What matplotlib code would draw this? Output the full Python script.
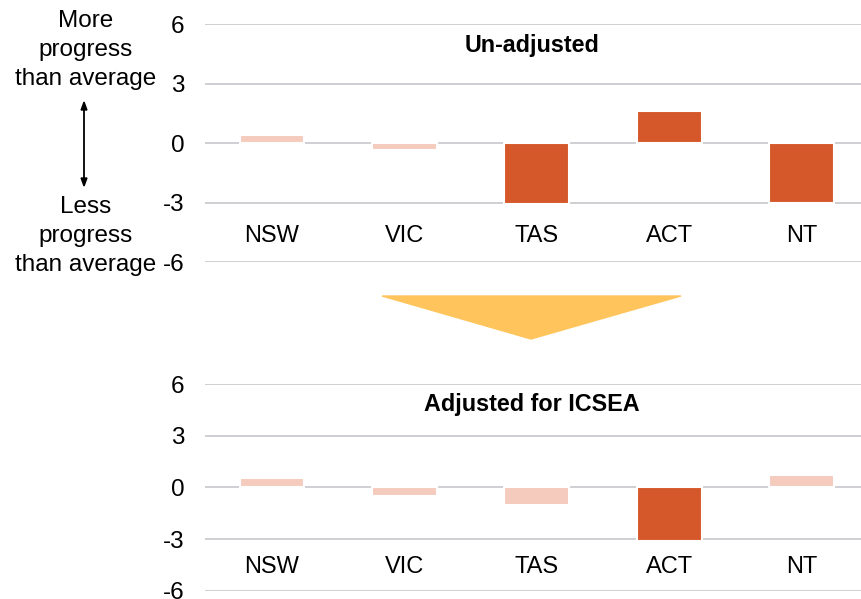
import numpy as np
import matplotlib.pyplot as plt
from matplotlib.patches import Polygon

plt.rcParams['font.family'] = ['Liberation Sans', 'DejaVu Sans']

# --- Données ---
states = ["NSW", "VIC", "TAS", "ACT", "NT"]
unadjusted = [0.42, -0.34, -3.08, 1.63, -3.03]
adjusted = [0.52, -0.48, -1.02, -3.1, 0.74]
sig_unadj = [False, False, True, True, True]
sig_adj = [False, False, False, True, False]
yticks = [-6, -3, 0, 3, 6]

DARK = "#D5582A"
LIGHT = "#F5CBBE"
GRID = "#CFCFD3"
FS = 17.5

fig = plt.figure(figsize=(8.61, 5.99), dpi=100)

def panel(rect, values, sig, title, title_y):
    ax = fig.add_axes(rect)
    x = np.arange(len(states))
    cols = [DARK if s else LIGHT for s in sig]
    ax.bar(x, values, width=0.49, color=cols, edgecolor="white", linewidth=1.5, zorder=3)
    ax.set_xlim(-0.506, 4.45)
    ax.set_ylim(-6, 6)
    ax.set_yticks(yticks)
    ax.set_yticklabels([str(t) for t in yticks], fontsize=FS)
    ax.grid(axis="y", color=GRID, linewidth=1.4, zorder=0)
    ax.tick_params(axis="y", length=0, pad=15)
    ax.set_xticks([])
    for s in ax.spines.values():
        s.set_visible(False)
    for i, name in enumerate(states):
        ax.text(i, -4.65, name, ha="center", va="center", fontsize=17)
    fig.text(0.618, title_y, title, ha="center", va="center", fontsize=16.8, fontweight="bold")
    return ax

panel([0.2381, 0.5621, 0.7619, 0.3973], unadjusted, sig_unadj, "Un-adjusted", 0.9235)
panel([0.2381, 0.01386, 0.7619, 0.345], adjusted, sig_adj, "Adjusted for ICSEA", 0.3247)

# --- Annotations à gauche ---
fig.text(0.0999, 0.9165, "More\nprogress\nthan average", ha="center", va="center",
         fontsize=FS, linespacing=1.4)
fig.text(0.0999, 0.606, "Less\nprogress\nthan average", ha="center", va="center",
         fontsize=FS, linespacing=1.4)
fig.add_artist(plt.Line2D([0.0976, 0.0976], [1 - 106 / 599, 1 - 182 / 599], color="black", lw=1.3))
fig.add_artist(Polygon([[0.0976, 1 - 102 / 599], [0.0942, 1 - 110 / 599], [0.101, 1 - 110 / 599]],
                       closed=True, color="black", transform=fig.transFigure))
fig.add_artist(Polygon([[0.0976, 1 - 186 / 599], [0.0942, 1 - 178 / 599], [0.101, 1 - 178 / 599]],
                       closed=True, color="black", transform=fig.transFigure))

# --- Flèche jaune ---
fig.add_artist(Polygon([[382 / 861, 1 - 296 / 599], [681 / 861, 1 - 296 / 599], [531 / 861, 1 - 339 / 599]],
                       closed=True, color="#FFC55C", transform=fig.transFigure))

fig.savefig("out.png", dpi=100)
